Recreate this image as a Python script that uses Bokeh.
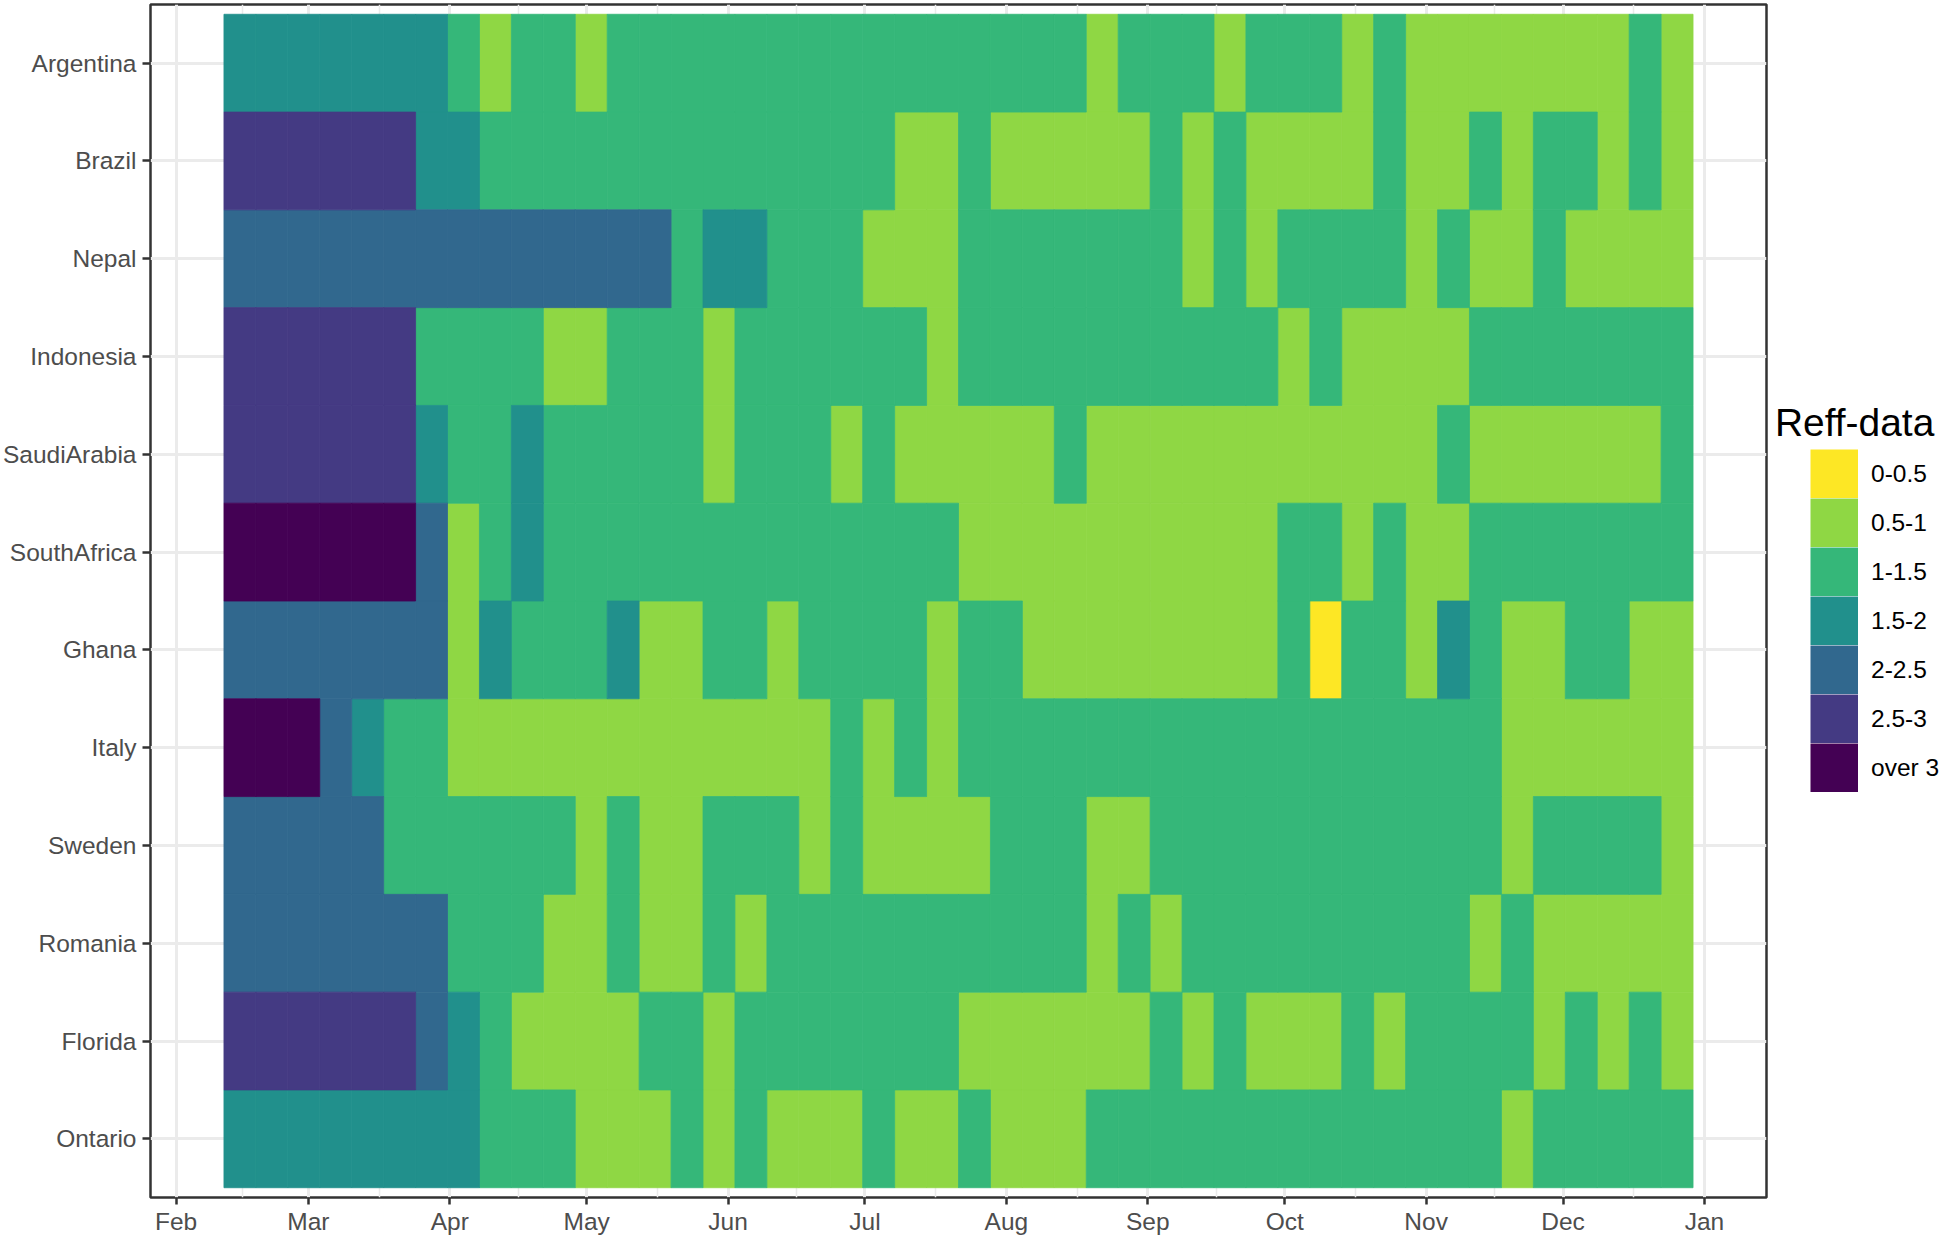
import pandas as pd
from bokeh.plotting import figure
from bokeh.models import (ColumnDataSource, Legend, LegendItem, FixedTicker,
                          DatetimeTickFormatter, Range1d)
from bokeh.embed import file_html
from bokeh.resources import INLINE

# ---------------- data ----------------
countries = ["Argentina", "Brazil", "Nepal", "Indonesia", "SaudiArabia", "SouthAfrica",
             "Ghana", "Italy", "Sweden", "Romania", "Florida", "Ontario"]
levels = ["0-0.5", "0.5-1", "1-1.5", "1.5-2", "2-2.5", "2.5-3", "over 3"]
colors = ["#FDE725", "#8FD744", "#35B779", "#21908C", "#31688E", "#443A83", "#440154"]
week_centres = pd.date_range("2020-02-15", periods=46, freq="7D")
month_ticks = pd.date_range("2020-02-01", "2021-01-01", freq="MS")
month_labels = ["Feb", "Mar", "Apr", "May", "Jun", "Jul", "Aug", "Sep", "Oct", "Nov", "Dec", "Jan"]

# level index per week (0 = "0-0.5" ... 6 = "over 3")
argentina = [3, 3, 3, 3, 3, 3, 3, 2, 1, 2,
             2, 1, 2, 2, 2, 2, 2, 2, 2, 2,
             2, 2, 2, 2, 2, 2, 2, 1, 2, 2,
             2, 1, 2, 2, 2, 1, 2, 1, 1, 1,
             1, 1, 1, 1, 2, 1]
brazil = [5, 5, 5, 5, 5, 5, 3, 3, 2, 2,
          2, 2, 2, 2, 2, 2, 2, 2, 2, 2,
          2, 1, 1, 2, 1, 1, 1, 1, 1, 2,
          1, 2, 1, 1, 1, 1, 2, 1, 1, 2,
          1, 2, 2, 1, 2, 1]
nepal = [4, 4, 4, 4, 4, 4, 4, 4, 4, 4,
         4, 4, 4, 4, 2, 3, 3, 2, 2, 2,
         1, 1, 1, 2, 2, 2, 2, 2, 2, 2,
         1, 2, 1, 2, 2, 2, 2, 1, 2, 1,
         1, 2, 1, 1, 1, 1]
indonesia = [5, 5, 5, 5, 5, 5, 2, 2, 2, 2,
             1, 1, 2, 2, 2, 1, 2, 2, 2, 2,
             2, 2, 1, 2, 2, 2, 2, 2, 2, 2,
             2, 2, 2, 1, 2, 1, 1, 1, 1, 2,
             2, 2, 2, 2, 2, 2]
saudiarabia = [5, 5, 5, 5, 5, 5, 3, 2, 2, 3,
               2, 2, 2, 2, 2, 1, 2, 2, 2, 1,
               2, 1, 1, 1, 1, 1, 2, 1, 1, 1,
               1, 1, 1, 1, 1, 1, 1, 1, 2, 1,
               1, 1, 1, 1, 1, 2]
southafrica = [6, 6, 6, 6, 6, 6, 4, 1, 2, 3,
               2, 2, 2, 2, 2, 2, 2, 2, 2, 2,
               2, 2, 2, 1, 1, 1, 1, 1, 1, 1,
               1, 1, 1, 2, 2, 1, 2, 1, 1, 2,
               2, 2, 2, 2, 2, 2]
ghana = [4, 4, 4, 4, 4, 4, 4, 1, 3, 2,
         2, 2, 3, 1, 1, 2, 2, 1, 2, 2,
         2, 2, 1, 2, 2, 1, 1, 1, 1, 1,
         1, 1, 1, 2, 0, 2, 2, 1, 3, 2,
         1, 1, 2, 2, 1, 1]
italy = [6, 6, 6, 4, 3, 2, 2, 1, 1, 1,
         1, 1, 1, 1, 1, 1, 1, 1, 1, 2,
         1, 2, 1, 2, 2, 2, 2, 2, 2, 2,
         2, 2, 2, 2, 2, 2, 2, 2, 2, 2,
         1, 1, 1, 1, 1, 1]
sweden = [4, 4, 4, 4, 4, 2, 2, 2, 2, 2,
          2, 1, 2, 1, 1, 2, 2, 2, 1, 2,
          1, 1, 1, 1, 2, 2, 2, 1, 1, 2,
          2, 2, 2, 2, 2, 2, 2, 2, 2, 2,
          1, 2, 2, 2, 2, 1]
romania = [4, 4, 4, 4, 4, 4, 4, 2, 2, 2,
           1, 1, 2, 1, 1, 2, 1, 2, 2, 2,
           2, 2, 2, 2, 2, 2, 2, 1, 2, 1,
           2, 2, 2, 2, 2, 2, 2, 2, 2, 1,
           2, 1, 1, 1, 1, 1]
florida = [5, 5, 5, 5, 5, 5, 4, 3, 2, 1,
           1, 1, 1, 2, 2, 1, 2, 2, 2, 2,
           2, 2, 2, 1, 1, 1, 1, 1, 1, 2,
           1, 2, 1, 1, 1, 2, 1, 2, 2, 2,
           2, 1, 2, 1, 2, 1]
ontario = [3, 3, 3, 3, 3, 3, 3, 3, 2, 2,
           2, 1, 1, 1, 2, 1, 2, 1, 1, 1,
           2, 1, 1, 2, 1, 1, 1, 2, 2, 2,
           2, 2, 2, 2, 2, 2, 2, 2, 2, 2,
           1, 2, 2, 2, 2, 2]

rows = {"Argentina": argentina, "Brazil": brazil, "Nepal": nepal, "Indonesia": indonesia,
        "SaudiArabia": saudiarabia, "SouthAfrica": southafrica, "Ghana": ghana,
        "Italy": italy, "Sweden": sweden, "Romania": romania, "Florida": florida,
        "Ontario": ontario}

# ---------------- build tiles ----------------
def ms(ts):
    return ts.value / 1e6

half_week = pd.Timedelta(days=3.5)
n = len(countries)
per_level = {k: dict(left=[], right=[], bottom=[], top=[], xc=[], yc=[])
             for k in range(len(levels))}
for i, c in enumerate(countries):
    ypos = n - i
    for j, code in enumerate(rows[c]):
        d = per_level[code]
        d["left"].append(ms(week_centres[j] - half_week))
        d["right"].append(ms(week_centres[j] + half_week))
        d["bottom"].append(ypos - 0.5)
        d["top"].append(ypos + 0.5)
        d["xc"].append(ms(week_centres[j]))
        d["yc"].append(ypos)

x_start = ms(week_centres[0] - half_week - pd.Timedelta(days=16.1))
x_end = ms(week_centres[-1] + half_week + pd.Timedelta(days=16.1))

p = figure(frame_width=1616, frame_height=1193, x_axis_type="datetime",
           x_range=Range1d(x_start, x_end), y_range=Range1d(0.4, n + 0.6),
           output_backend="svg", toolbar_location=None,
           min_border_left=142, min_border_right=175, min_border_top=4, min_border_bottom=0,
           background_fill_color="white", border_fill_color="white")

renderers = []
for k in range(len(levels)):
    src = ColumnDataSource(per_level[k])
    r = p.quad(left="left", right="right", bottom="bottom", top="top", source=src,
               fill_color=colors[k], line_color=colors[k], line_width=0.8)
    renderers.append(r)

# legend keys: a single-point (invisible) thick stroke per level, anchored on that
# level's first tile; in the legend it draws a solid key block offset under the title
key_renderers = []
for k in range(len(levels)):
    d = per_level[k]
    kr = p.line(x=d["xc"][:1], y=d["yc"][:1], line_color=colors[k], line_width=49,
                line_dash="0 35 48 300", line_cap="butt")
    key_renderers.append(kr)

# ---------------- axes / grid ----------------
month_ms = [ms(t) for t in month_ticks]
minor_ms = [(a + b) / 2 for a, b in zip(month_ms[:-1], month_ms[1:])]
p.xaxis.ticker = FixedTicker(ticks=month_ms, minor_ticks=minor_ms)
p.xaxis.major_label_overrides = {m: lab for m, lab in zip(month_ms, month_labels)}
p.xaxis.formatter = DatetimeTickFormatter(months="%b", days="%b")
p.xgrid.ticker = FixedTicker(ticks=month_ms, minor_ticks=minor_ms)

p.yaxis.ticker = FixedTicker(ticks=list(range(1, n + 1)))
p.yaxis.major_label_overrides = {n - i: c for i, c in enumerate(countries)}

for ax in (p.xaxis[0], p.yaxis[0]):
    ax.axis_line_color = None
    ax.major_tick_in = 0
    ax.major_tick_out = 8
    ax.major_tick_line_color = "#333333"
    ax.major_tick_line_width = 2.5
    ax.minor_tick_line_color = None
    ax.major_label_text_font = "Liberation Sans"
    ax.major_label_text_font_size = "24.5px"
    ax.major_label_text_color = "#4D4D4D"
    ax.major_label_standoff = 6
p.xaxis[0].major_tick_out = 7
p.xaxis[0].major_label_standoff = 3

p.xgrid.grid_line_color = "#EBEBEB"
p.xgrid.grid_line_width = 3
p.xgrid.minor_grid_line_color = "#EBEBEB"
p.xgrid.minor_grid_line_width = 1.5
p.ygrid.grid_line_color = "#EBEBEB"
p.ygrid.grid_line_width = 3
p.xgrid.level = "underlay"
p.ygrid.level = "underlay"

p.outline_line_color = "#333333"
p.outline_line_width = 2.5

# ---------------- legend ----------------
items = [LegendItem(label=levels[k], renderers=[key_renderers[k]]) for k in range(len(levels))]
legend = Legend(items=items, location=(9, 405), orientation="vertical",
                title="Reff-data", title_text_font="Liberation Sans",
                title_text_font_size="38.9px", title_text_font_style="normal",
                title_text_color="black", title_standoff=4,
                glyph_width=83, glyph_height=49, label_height=49, spacing=0,
                label_standoff=13, padding=3, margin=0,
                label_text_font="Liberation Sans", label_text_font_size="24.5px",
                label_text_color="black", label_text_baseline="middle",
                border_line_color=None, background_fill_alpha=0)
p.add_layout(legend, "right")

open("out.html", "w").write(file_html(p, INLINE))
